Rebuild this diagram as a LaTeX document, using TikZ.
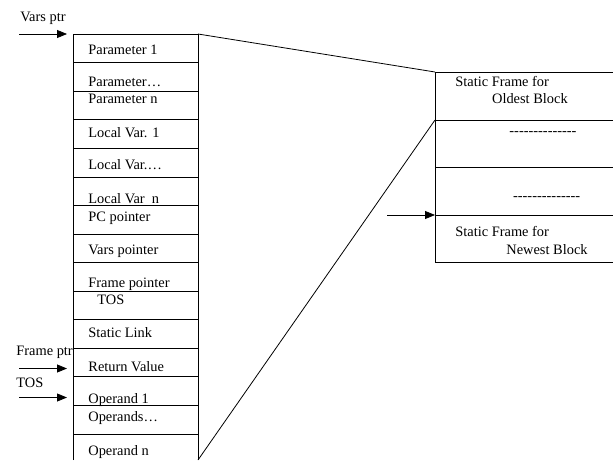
\documentclass[tikz,border=0pt]{standalone}
\usepackage{fontspec}
\setmainfont{Liberation Serif}
\usetikzlibrary{arrows.meta}

\begin{document}
\begin{tikzpicture}[x=0.75pt, y=-0.75pt, line width=0.6pt,
  lbl/.style={anchor=base west, inner sep=0pt, font=\fontsize{10.8}{13}\selectfont},
  ptr/.style={-{Triangle[length=7.5pt,width=6pt]}}]
\useasboundingbox (0,0) rectangle (613,460);
% activation record
\draw (73,460) -- (73,34) -- (198,34) -- (198,460);
\foreach \y in {62,91,119,148,177,205.7,234,262.7,291.7,319,348,376.7,405,434}
  \draw (73,\y) -- (198,\y);
\node[lbl] (par1)  at (88,55)    {Parameter 1};
\node[lbl] (parx)  at (88,86)    {Parameter\dots};
\node[lbl] (parn)  at (88,103)   {Parameter n};
\node[lbl] (loc1)  at (88,137.7) {Local Var. 1};
\node[lbl] (locx)  at (88,169.3) {Local Var.\dots};
\node[lbl] (locn)  at (88,203.3) {Local Var\ \ n};
\node[lbl] (pcp)   at (88,221)   {PC pointer};
\node[lbl] (varsp) at (88,254)   {Vars pointer};
\node[lbl] (framep) at (88,287.3) {Frame pointer};
\node[lbl] (tos)   at (97,304)   {TOS};
\node[lbl] (slink) at (88,337.3) {Static Link};
\node[lbl] (retv)  at (88,371.7) {Return Value};
\node[lbl] (opd1)  at (88,403.3) {Operand 1};
\node[lbl] (opdx)  at (88,421.7) {Operands\dots};
\node[lbl] (opdn)  at (88,455)   {Operand n};
% pointers into the record
\node[lbl] (varsptr)  at (20,22)    {Vars ptr};
\node[lbl] (frameptr) at (16,355)   {Frame ptr};
\node[lbl] (tosptr)   at (16,387.3) {TOS};
\coordinate (vs) at (19,34);    \coordinate (ve) at (67,34);
\coordinate (fs) at (19,368.5); \coordinate (fe) at (67,368.5);
\coordinate (ts) at (19,397.5); \coordinate (te) at (67,397.5);
\draw[ptr] (vs) -- (ve);
\draw[ptr] (fs) -- (fe);
\draw[ptr] (ts) -- (te);
% static frames
\draw (613,72) -- (435,72) -- (435,262) -- (613,262);
\foreach \y in {120,167,215}
  \draw (435,\y) -- (613,\y);
\node[lbl] (old1) at (455,86.7)  {Static Frame for};
\node[lbl] (old2) at (491.7,103.3) {Oldest Block};
\node[lbl] (dsh1) at (509,135)   {-{}-{}-{}-{}-{}-{}-{}-{}-{}-{}-{}-{}-{}-};
\node[lbl] (dsh2) at (512.7,200) {-{}-{}-{}-{}-{}-{}-{}-{}-{}-{}-{}-{}-{}-};
\node[lbl] (new1) at (455,236.7) {Static Frame for};
\node[lbl] (new2) at (506,254)   {Newest Block};
\coordinate (ns) at (387,215); \coordinate (ne) at (435,215);
\draw[ptr] (ns) -- (ne);
% zoom lines
\coordinate (rtop) at (198,34);  \coordinate (rbot) at (198,460);
\coordinate (btop) at (435,72);  \coordinate (bbot) at (435,120);
\draw (rtop) -- (btop);
\draw (rbot) -- (bbot);
\end{tikzpicture}
\end{document}
